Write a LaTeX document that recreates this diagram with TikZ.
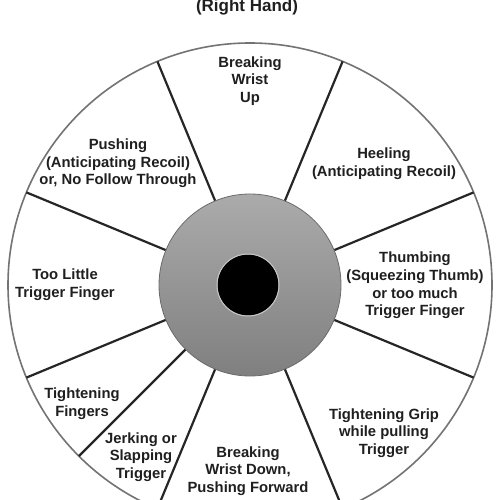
\documentclass[tikz,border=0pt]{standalone}
\usepackage{fontspec}
\setmainfont{Liberation Sans}
\usetikzlibrary{calc}
\begin{document}
\begin{tikzpicture}[x=1pt,y=-1pt,
  lbl/.style={font=\bfseries\fontsize{14.8}{17.7}\selectfont, align=center, text=black!88, inner sep=0pt},
  ttl/.style={font=\bfseries\fontsize{17}{20}\selectfont, text=black!88, inner sep=0pt, anchor=base},
  spoke/.style={line width=2.2pt, black!85},
  rim/.style={line width=1.6pt, black!55}]
\useasboundingbox (0,0) rectangle (500,500);
\clip (0,0) rectangle (500,500);
\fill[white] (0,0) rectangle (500,500);
\coordinate (c) at (250,285);
\coordinate (b) at (248,285);
% outer wheel
\draw[rim, fill=white] (c) circle[radius=242pt];
% spokes
\foreach \a [count=\i] in {22.5,67.5,112.5,157.5,202.5,225,247.5,292.5,337.5}{
  \coordinate (si\i) at ($(c)+(\a:90pt)$);
  \coordinate (so\i) at ($(c)+(\a:242pt)$);
  \draw[spoke] (si\i) -- (so\i);
}
% hub
\shade[top color=black!33, bottom color=black!50] (c) circle[radius=91pt];
\draw[line width=0.8pt, black!58] (c) circle[radius=91pt];
\fill[black] (b) circle[radius=30.5pt];
\draw[line width=1pt, black!22] (b) circle[radius=31pt];
% texts
\node[ttl] (title) at (247,12) {(Right Hand)};
\node[lbl] (t1) at (250,81) {Breaking\\Wrist\\Up};
\node[lbl] (t2) at (118,163.5) {Pushing\\(Anticipating Recoil)\\or, No Follow Through};
\node[lbl] (t3) at (384,164) {Heeling\\(Anticipating Recoil)};
\node[lbl] (t4) at (415,285.5) {Thumbing\\(Squeezing Thumb)\\or too much\\Trigger Finger};
\node[lbl] (t5) at (65,284.5) {Too Little\\Trigger Finger};
\node[lbl] (t6) at (82,404) {Tightening\\Fingers};
\node[lbl] (t7) at (141,457) {Jerking or\\Slapping\\Trigger};
\node[lbl] (t8) at (248,471) {Breaking\\Wrist Down,\\Pushing Forward};
\node[lbl] (t9) at (384,433) {Tightening Grip\\while pulling\\Trigger};
\end{tikzpicture}
\end{document}
